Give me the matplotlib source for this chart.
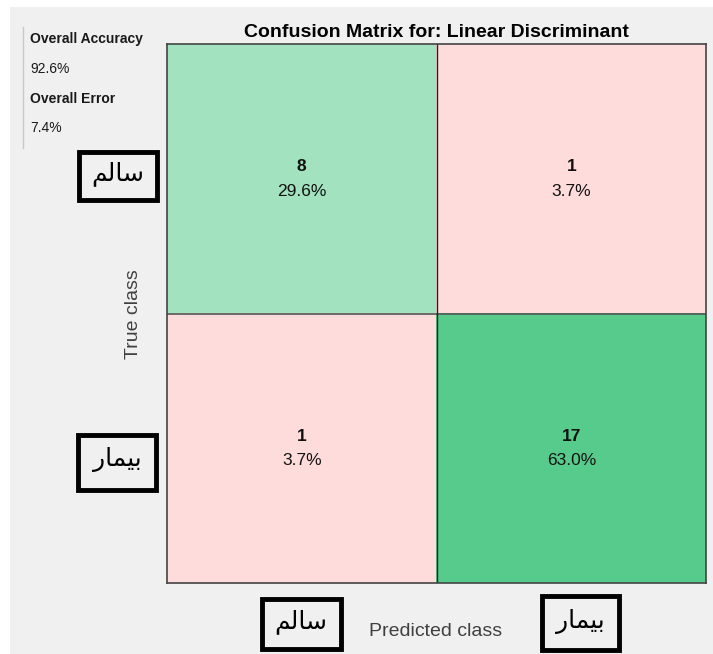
import numpy as np
import matplotlib.pyplot as plt
from matplotlib.patches import Rectangle
from matplotlib.colors import LinearSegmentedColormap, Normalize, to_rgb
from matplotlib.lines import Line2D

plt.rcParams['font.family'] = ['Liberation Sans', 'DejaVu Sans']

# class names (Persian, pre-shaped presentation forms in visual order)
classes = ["\uFEE2\uFEDF\uFE8E\uFEB3",          # سالم
           "\uFEAD\uFE8E\uFEE4\uFEF4\uFE91"]    # بیمار
counts = np.array([[8, 1],
                   [1, 17]])
title = "Confusion Matrix for: Linear Discriminant"

W, H = 713, 654
fig = plt.figure(figsize=(W / 100, H / 100), dpi=100, facecolor="white")


def px(x, y):
    # pixel coords (top-left origin) -> figure fraction
    return x / W, 1 - y / H


# gray panel behind everything
fig.add_artist(Rectangle(px(10, 654), 703 / W, 647 / H, transform=fig.transFigure,
                         facecolor="#f0f0f0", edgecolor="none", zorder=0))

x0, y0 = px(167, 583)
ax = fig.add_axes([x0, y0, (706 - 167) / W, (583 - 44) / H])

total = counts.sum()
diag_cmap = LinearSegmentedColormap.from_list("g", ["#e6f8ee", "#57cb8c"])
norm = Normalize(vmin=0, vmax=counts.max())
off_color = to_rgb("#ffdcdc")

n = len(classes)
rgb = np.ones((n, n, 3))
for i in range(n):
    for j in range(n):
        if i == j:
            rgb[i, j] = diag_cmap(norm(counts[i, j]))[:3]
        elif counts[i, j] > 0:
            rgb[i, j] = off_color

ax.imshow(rgb, extent=(-0.5, n - 0.5, n - 0.5, -0.5), aspect="auto", interpolation="nearest")
for k in range(1, n):
    ax.axhline(k - 0.5, color="#555555", lw=1.2)
    ax.axvline(k - 0.5, color="#222222", lw=1.0)
for s in ax.spines.values():
    s.set_color("#444444")
    s.set_linewidth(1.2)
ax.set_xticks([])
ax.set_yticks([])

for i in range(n):
    for j in range(n):
        ax.annotate(str(counts[i, j]), (j, i), xytext=(0, 8.5), textcoords="offset points",
                    ha="center", va="center", fontsize=12.5, fontweight="bold", color="#111111")
        ax.annotate("%.1f%%" % (100 * counts[i, j] / total), (j, i), xytext=(0, -9),
                    textcoords="offset points", ha="center", va="center", fontsize=12.5,
                    color="#111111")

ax.set_title(title, fontsize=14, fontweight="bold", pad=5)

# axis labels
fig.text(*px(133, 314), "True class", rotation=90, ha="center", va="center",
         fontsize=14, color="#404040")
fig.text(*px(436, 631), "Predicted class", ha="center", va="center",
         fontsize=14, color="#404040")

# overall stats panel
acc = 100 * np.trace(counts) / total
err = 100 - acc
fig.add_artist(Line2D([23 / W, 23 / W], [1 - 27 / H, 1 - 148 / H], transform=fig.transFigure,
                      color="#c8c8c8", lw=1))
fig.text(*px(30, 39), "Overall Accuracy", fontsize=10, fontweight="bold", va="center", color="#1a1a1a")
fig.text(*px(30, 69), "%.1f%%" % acc, fontsize=10, va="center", color="#1a1a1a")
fig.text(*px(30, 99), "Overall Error", fontsize=10, fontweight="bold", va="center", color="#1a1a1a")
fig.text(*px(30, 128), "%.1f%%" % err, fontsize=10, va="center", color="#1a1a1a")

# boxed Persian class labels
boxes = [(118, 176, 78, 48, 0), (117, 462, 78, 55, 1),
         (301, 624, 79, 50, 0), (580, 623, 77, 54, 1)]
for cx, cy, bw, bh, k in boxes:
    bx, by = px(cx - bw / 2, cy + bh / 2)
    fig.add_artist(Rectangle((bx, by), bw / W, bh / H, transform=fig.transFigure,
                             facecolor="#f0f0f0", edgecolor="black", lw=3.5, zorder=3))
    fig.text(*px(cx, cy - 2), classes[k], ha="center", va="center", fontsize=18,
             family="DejaVu Sans", color="black", zorder=4)

fig.savefig("out.png", dpi=100, facecolor=fig.get_facecolor())
